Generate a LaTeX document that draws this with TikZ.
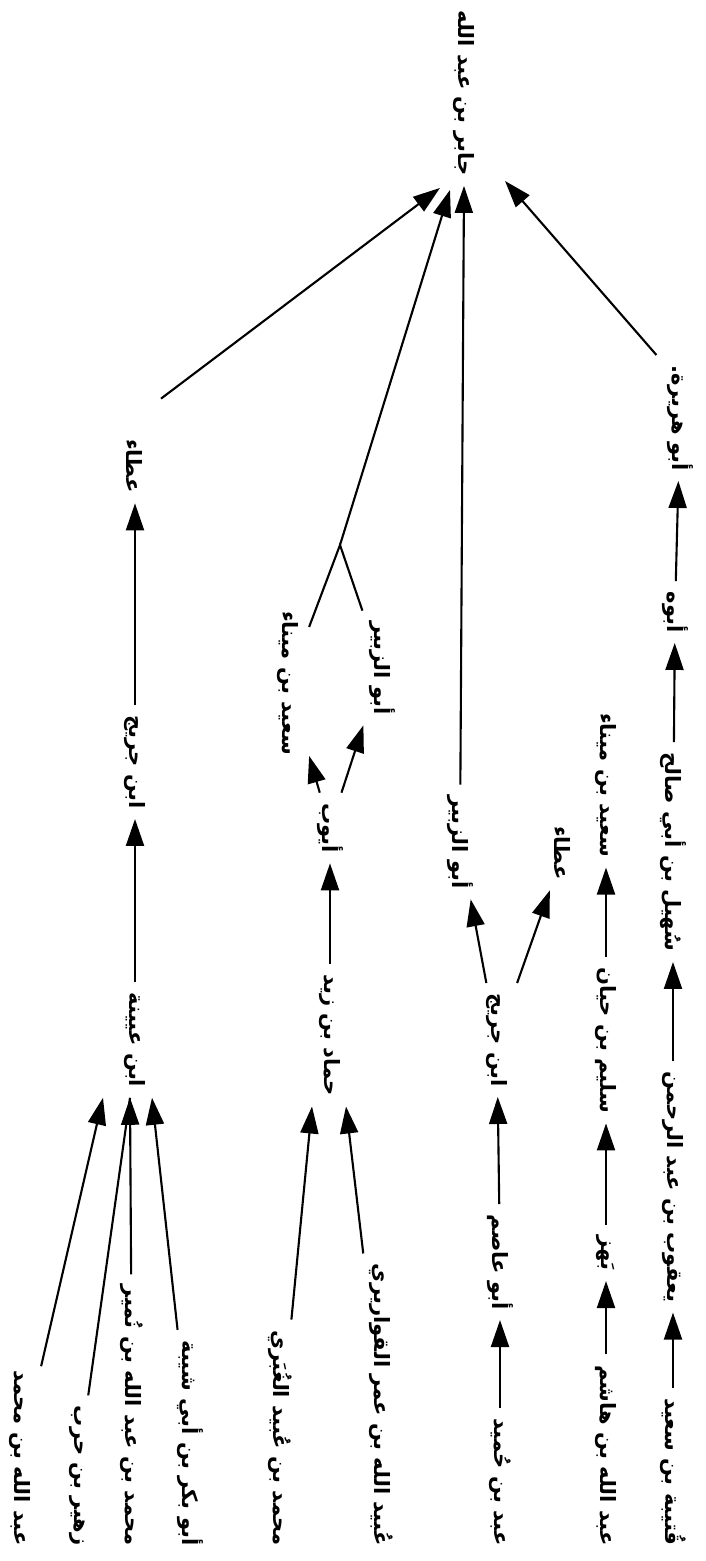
\documentclass[tikz,border=0pt]{standalone}
\usepackage{fontspec}
\newfontfamily\arabicfont[Script=Arabic, BoldFont={DejaVu Sans Bold}]{DejaVu Sans}
\TeXXeTstate=1
\usetikzlibrary{arrows.meta, calc}
\newcommand{\artxt}[1]{\beginR #1\endR}
\tikzset{narrator/.style={rotate=-90, inner sep=1pt, outer sep=5pt, font=\arabicfont\bfseries\fontsize{12}{14}\selectfont}}
\tikzset{isnad/.style={line width=1.2pt, -{Triangle[length=0.54cm, width=0.36cm]}}}
\tikzset{bare/.style={line width=1.2pt}}

\begin{document}
\begin{tikzpicture}[x=0.02cm, y=-0.02cm]
\useasboundingbox (0,0) rectangle (706,1561);
\node[narrator] (jabir) at (464,93) {\artxt{جابر بن عبد الله}};

\node[narrator] (ata1) at (135,466) {\artxt{عطاء}};
\node[narrator] (jurayj1) at (135,762) {\artxt{ابن جريج}};
\node[narrator] (uyayna) at (135,1040) {\artxt{ابن عيينة}};
\node[narrator, anchor=east] (abdallahm) at (20,1556) {\artxt{عبد الله بن محمد}};
\node[narrator, anchor=east] (zuhayr) at (77,1556) {\artxt{زهير بن حرب}};
\node[narrator, anchor=east] (numayr) at (132,1556) {\artxt{محمد بن عبد الله بن نُمير}};
\node[narrator, anchor=east] (shayba) at (190,1556) {\artxt{أبو بكر بن أبي شيبة}};

\coordinate (fork) at (340,545);
\node[narrator] (saeed2) at (288,683) {\artxt{سعيد بن ميناء}};
\node[narrator] (abuz2) at (382,668) {\artxt{أبو الزبير}};
\node[narrator] (ayyub) at (330,828) {\artxt{أيوب}};
\node[narrator] (hammad) at (330,1035) {\artxt{حماد بن زيد}};
\node[narrator, anchor=east] (ghubari) at (280,1556) {\artxt{محمد بن عُبيد الغُبَري}};
\node[narrator, anchor=east] (qawariri) at (381,1556) {\artxt{عُبيد الله بن عمر القواريري}};

\node[narrator] (abuz3) at (460,842) {\artxt{أبو الزبير}};
\node[narrator] (ata3) at (563,853) {\artxt{عطاء}};
\node[narrator] (jurayj3) at (497,1040) {\artxt{ابن جريج}};
\node[narrator] (asim) at (500,1262) {\artxt{أبو عاصم}};
\node[narrator, anchor=east] (humayd) at (500,1556) {\artxt{عبد بن حُميد}};

\node[narrator] (saeed4) at (606,785) {\artxt{سعيد بن ميناء}};
\node[narrator] (sulaym) at (606,1040) {\artxt{سليم بن حيان}};
\node[narrator] (bahz) at (606,1253) {\artxt{بَهز}};
\node[narrator, anchor=east] (hashim) at (606,1556) {\artxt{عبد الله بن هاشم}};

\node[narrator] (hurayra) at (680,418) {\artxt{أبو هريرة.}};
\node[narrator] (abuh) at (675,612) {\artxt{أبوه}};
\node[narrator] (suhayl) at (673,852) {\artxt{سُهيل بن أبي صالح}};
\node[narrator] (yaqub) at (673,1187) {\artxt{يعقوب بن عبد الرحمن}};
\node[narrator, anchor=east] (qutayba) at (673,1556) {\artxt{قُتيبة بن سعيد}};

\draw[isnad] ($(ata1.west)+(26,-30)$) -- ($(jabir.east)+(-24,2)$);
\draw[isnad] (jurayj1) -- (ata1);
\draw[isnad] (uyayna) -- (jurayj1);
\draw[isnad] (abdallahm) -- ($(uyayna.east)+(-32,0)$);
\draw[bare] (zuhayr) -- ($(uyayna.east)+(-5,0)$);
\draw[isnad] (numayr) -- ($(uyayna.east)+(-5,0)$);
\draw[isnad] (shayba) -- ($(uyayna.east)+(17,0)$);

\draw[bare] (saeed2) -- (fork) -- (abuz2);
\draw[isnad] (fork) -- ($(jabir.east)+(-14,4)$);
\draw[isnad] (ayyub) -- (saeed2);
\draw[isnad] (ayyub) -- (abuz2);
\draw[isnad] (hammad) -- (ayyub);
\draw[isnad] (ghubari) -- ($(hammad.east)+(-18,0)$);
\draw[isnad] (qawariri) -- ($(hammad.east)+(16,0)$);

\draw[isnad] (abuz3) -- (jabir.east);
\draw[isnad] (jurayj3) -- (abuz3);
\draw[isnad] (jurayj3) -- (ata3);
\draw[isnad] (asim) -- (jurayj3);
\draw[isnad] (humayd) -- (asim);

\draw[isnad] (sulaym) -- (saeed4);
\draw[isnad] (bahz) -- (sulaym);
\draw[isnad] (hashim) -- (bahz);

\draw[isnad] (hurayra.south west) -- ($(jabir.east)+(41,-5)$);
\draw[isnad] (abuh) -- (hurayra);
\draw[isnad] (suhayl) -- (abuh);
\draw[isnad] (yaqub) -- (suhayl);
\draw[isnad] (qutayba) -- (yaqub);
\end{tikzpicture}
\end{document}
